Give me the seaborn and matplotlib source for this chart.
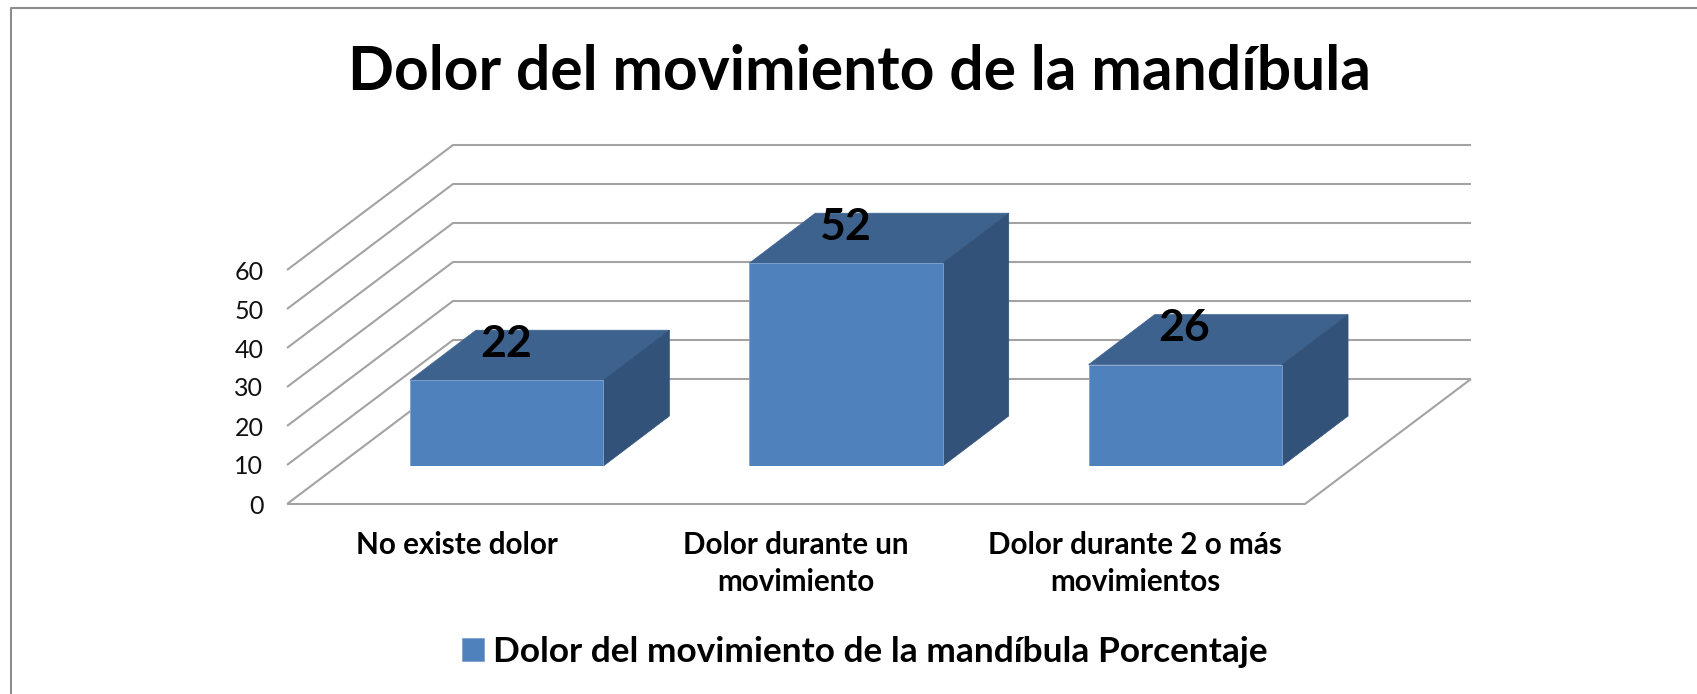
import matplotlib
matplotlib.use("Agg")
import matplotlib.pyplot as plt
from matplotlib.lines import Line2D
from matplotlib.patches import Polygon
from matplotlib.transforms import Affine2D
import seaborn as sns
import pandas as pd

categories = ["No existe dolor", "Dolor durante un\nmovimiento", "Dolor durante 2 o más\nmovimientos"]
values = [22, 52, 26]
y_ticks = [0, 10, 20, 30, 40, 50, 60]
title = "Dolor del movimiento de la mandíbula"
series_name = "Dolor del movimiento de la mandíbula Porcentaje"

W, H = 1697, 694
FRONT, TOP, SIDE = "#4F81BD", "#3E628E", "#325279"
GRID = "#A3A3A3"

sns.set_theme(style="white")
plt.rcParams["font.family"] = ["Lato", "DejaVu Sans"]

fig = plt.figure(figsize=(W / 100, H / 100), dpi=100, facecolor="white")
# bar-front plane, pixel box
L, R, B, T = 337, 1355, 466, 232
ax = fig.add_axes([L / W, 1 - B / H, (R - L) / W, (B - T) / H])
df = pd.DataFrame({"cat": categories, "val": values})
sns.barplot(data=df, x="cat", y="val", color=FRONT, saturation=1, width=0.57,
            ax=ax, zorder=3, label=series_name, edgecolor="#7FA3D0", linewidth=0.6)
ax.set_xlim(-0.5, 2.5)
ax.set_ylim(0, 60)
ax.set_xlabel("")
ax.set_ylabel("")
ax.patch.set_alpha(0)
for s in ax.spines.values():
    s.set_visible(False)

ux = 3 / (R - L)      # data units per pixel
uy = 60 / (B - T)
fx, fy = -50 * ux, -38 * uy    # front of floor relative to bar plane
bx, by = 116 * ux, 87 * uy     # back wall relative to bar plane
dx, dy = 66 * ux, 50 * uy      # bar depth
x0, x1 = -0.5, 2.5

line = dict(color=GRID, lw=1.5, clip_on=False, zorder=1, solid_capstyle="butt")
for t in y_ticks:
    ax.plot([x0 + fx, x0 + bx, x1 + bx], [t + fy, t + by, t + by], **line)
ax.plot([x0 + fx, x1 + fx, x1 + bx], [fy, fy, by], **line)

for bar, v in zip(ax.patches, values):
    xa, xb = bar.get_x(), bar.get_x() + bar.get_width()
    ax.add_patch(Polygon([(xa, v), (xb, v), (xb + dx, v + dy), (xa + dx, v + dy)],
                         fc=TOP, ec=TOP, lw=0.5, clip_on=False, zorder=2.5))
    ax.add_patch(Polygon([(xb, 0), (xb + dx, dy), (xb + dx, v + dy), (xb, v)],
                         fc=SIDE, ec=SIDE, lw=0.5, clip_on=False, zorder=2.5))
    ax.text((xa + xb) / 2 - 0.003, v + 9.4, str(v), ha="center", va="center",
            fontsize=32, fontweight="bold", color="black", zorder=5, clip_on=False)

ax.set_yticks(y_ticks)
ax.tick_params(axis="y", length=0, pad=53, labelsize=18, labelcolor="#111111")
for lab in ax.get_yticklabels():
    lab.set_transform(lab.get_transform() + Affine2D().translate(0, -38))
ax.tick_params(axis="x", length=0, pad=47, labelsize=21.3, labelcolor="black")
ax.set_xticks(range(3))
ax.set_xticklabels(categories, fontweight="bold", linespacing=1.36)
for lab in ax.get_xticklabels():
    lab.set_transform(lab.get_transform() + Affine2D().translate(-50, 0))

fig.text(859 / W, 1 - 72.5 / H, title, ha="center", va="center",
         fontsize=43.6, fontweight="bold", color="black")

h, l = ax.get_legend_handles_labels()
leg = ax.legend(h[:1], l[:1], loc="center", bbox_to_anchor=(865 / W, 1 - 652 / H),
                bbox_transform=fig.transFigure, frameon=False, labelcolor="black",
                prop={"size": 25.4, "weight": "bold"}, handlelength=0.62, handleheight=0.62,
                handletextpad=0.25, borderpad=0)

bl = 10.5 / W
bt = 1 - 7.7 / H
fig.add_artist(Line2D([bl, bl, 1], [0, bt, bt], transform=fig.transFigure, color="#8E8E8E", lw=1.5))
fig.savefig("out.png", dpi=100, facecolor="white")
